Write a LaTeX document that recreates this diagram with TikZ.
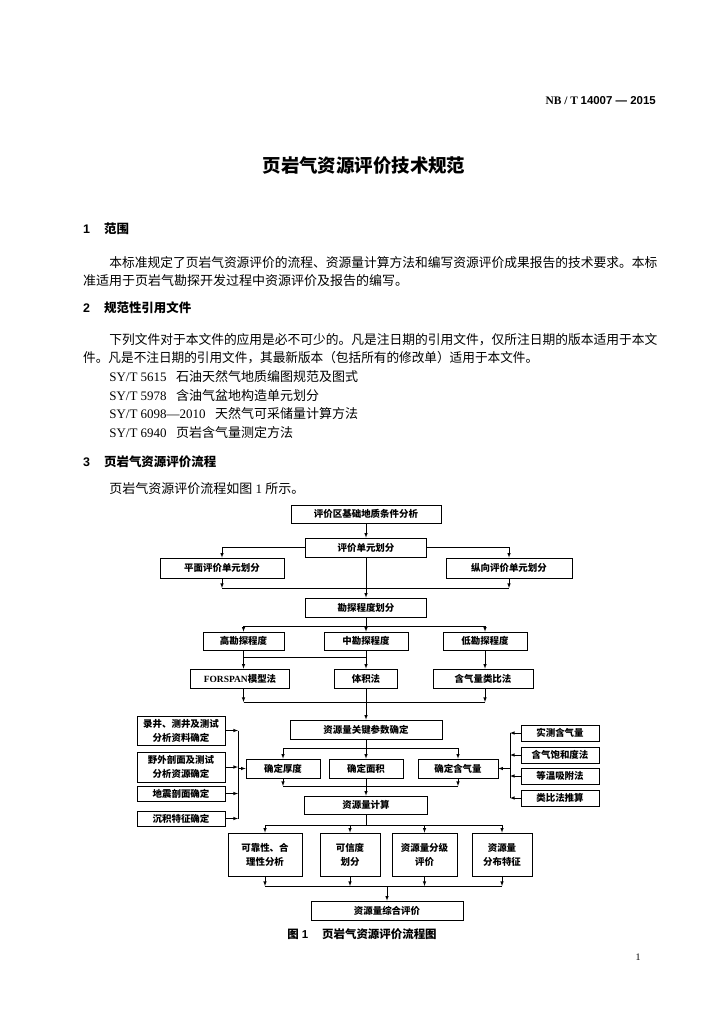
\documentclass[tikz,border=0pt]{standalone}
\usepackage{fontspec}
\usepackage{graphicx}
\setmainfont{Noto Sans CJK SC}
\newfontfamily\lat{Liberation Serif}
\newfontfamily\latsans{Liberation Sans}
\usetikzlibrary{arrows,positioning}
\newcommand\fullline[1]{\resizebox{#1}{\height}}

\begin{document}
\begin{tikzpicture}[x=1bp,y=-1bp,
    box/.style={draw,line width=0.8bp,inner sep=0pt,align=center,
        font=\fontsize{9.5}{12}\selectfont\bfseries},
    twoline/.style={font=\fontsize{9.5}{14}\selectfont\bfseries},
    line/.style={line width=0.6bp},
    arr/.style={line width=0.6bp,-latex},
    txt/.style={anchor=west,inner sep=0pt,font=\fontsize{13.05}{16}\selectfont},
    head/.style={anchor=west,inner sep=0pt,font=\fontsize{12.5}{15}\selectfont\bfseries}]
\useasboundingbox (0,0) rectangle (724,1024);
\fill[white] (0,0) rectangle (724,1024);

% page head and title
\node[anchor=east,inner sep=0pt,font=\fontsize{11.5}{14}\selectfont\bfseries] (hdr) at (656,101)
    {{\lat NB / T} {\latsans 14007 — 2015}};
\node[inner sep=0pt,font=\fontsize{18.5}{22}\selectfont\bfseries] (title) at (364,166) {页岩气资源评价技术规范};

% clause 1
\node[head] (sec1) at (83,229) {{\latsans 1}\hspace{14bp}范围};
\node[txt] (p1a) at (109.1,263) {\fullline{548bp}{本标准规定了页岩气资源评价的流程、资源量计算方法和编写资源评价成果报告的技术要求。本标}};
\node[txt] (p1b) at (83,281) {准适用于页岩气勘探开发过程中资源评价及报告的编写。};

% clause 2
\node[head] (sec2) at (83,308) {{\latsans 2}\hspace{14bp}规范性引用文件};
\node[txt] (p2a) at (109.1,340) {\fullline{548bp}{下列文件对于本文件的应用是必不可少的。凡是注日期的引用文件，仅所注日期的版本适用于本文}};
\node[txt] (p2b) at (83,358) {\fullline{455bp}{件。凡是不注日期的引用文件，其最新版本（包括所有的修改单）适用于本文件。}};
\node[txt] (ref1) at (109.1,377) {\lat SY/T 5615};
\node[txt] (ref1t) at (176,377) {石油天然气地质编图规范及图式};
\node[txt] (ref2) at (109.1,396) {\lat SY/T 5978};
\node[txt] (ref2t) at (176,396) {含油气盆地构造单元划分};
\node[txt] (ref3) at (109.1,414) {\lat SY/T 6098—2010};
\node[txt] (ref3t) at (215,414) {天然气可采储量计算方法};
\node[txt] (ref4) at (109.1,433) {\lat SY/T 6940};
\node[txt] (ref4t) at (176,433) {页岩含气量测定方法};

% clause 3
\node[head] (sec3) at (83,462) {{\latsans 3}\hspace{14bp}页岩气资源评价流程};
\node[txt] (p3) at (109.1,489) {页岩气资源评价流程如图{\lat\ 1 }所示。};

% flow chart
\node[box,minimum width=150bp,minimum height=18bp] (base) at (366,514) {评价区基础地质条件分析};
\node[box,minimum width=121bp,minimum height=19bp] (unit) at (366,547.5) {评价单元划分};
\node[box,minimum width=124bp,minimum height=20bp] (plane) at (222,568) {平面评价单元划分};
\node[box,minimum width=126bp,minimum height=20bp] (vert) at (509,568) {纵向评价单元划分};
\node[box,minimum width=121bp,minimum height=19bp] (degree) at (366,607.5) {勘探程度划分};
\node[box,minimum width=81bp,minimum height=18bp] (high) at (243.5,641) {高勘探程度};
\node[box,minimum width=84bp,minimum height=18bp] (mid) at (366,641) {中勘探程度};
\node[box,minimum width=84bp,minimum height=18bp] (low) at (485,641) {低勘探程度};
\node[box,minimum width=99bp,minimum height=19bp] (forspan) at (240,678.5) {{\lat FORSPAN}模型法};
\node[box,minimum width=63bp,minimum height=19bp] (volume) at (366,678.5) {体积法};
\node[box,minimum width=100bp,minimum height=19bp] (analog) at (483,678.5) {含气量类比法};
\node[box,minimum width=152bp,minimum height=19bp] (param) at (366,729.5) {资源量关键参数确定};
\node[box,minimum width=74bp,minimum height=19bp] (thick) at (283,768.5) {确定厚度};
\node[box,minimum width=74bp,minimum height=19bp] (area) at (366,768.5) {确定面积};
\node[box,minimum width=80bp,minimum height=19bp] (gas) at (458,768.5) {确定含气量};
\node[box,minimum width=123bp,minimum height=18bp] (calc) at (366,805) {资源量计算};

\node[box,twoline,minimum width=88bp,minimum height=29bp] (logdata) at (181,730.5) {录井、测井及测试\\分析资料确定};
\node[box,twoline,minimum width=88bp,minimum height=30bp] (field) at (181,767) {野外剖面及测试\\分析资源确定};
\node[box,minimum width=88bp,minimum height=15bp] (seismic) at (181,793.5) {地震剖面确定};
\node[box,minimum width=88bp,minimum height=15bp] (sedim) at (181,818.5) {沉积特征确定};

\node[box,minimum width=78bp,minimum height=16bp] (meas) at (560,733) {实测含气量};
\node[box,minimum width=78bp,minimum height=16bp] (sat) at (560,755) {含气饱和度法};
\node[box,minimum width=78bp,minimum height=16bp] (iso) at (560,776) {等温吸附法};
\node[box,minimum width=78bp,minimum height=16bp] (analogy) at (560,798) {类比法推算};

\node[box,twoline,minimum width=74bp,minimum height=43bp] (reliab) at (265,854.5) {可靠性、合\\理性分析};
\node[box,twoline,minimum width=60bp,minimum height=43bp] (confid) at (350,854.5) {可信度\\划分};
\node[box,twoline,minimum width=65bp,minimum height=43bp] (grade) at (424.5,854.5) {资源量分级\\评价};
\node[box,twoline,minimum width=60bp,minimum height=43bp] (distr) at (502,854.5) {资源量\\分布特征};
\node[box,minimum width=152bp,minimum height=19bp] (overall) at (387,910.5) {资源量综合评价};

% connectors
\draw[arr] (base) -- (unit);
\draw[arr] (unit.west) -| (plane.north);
\draw[arr] (unit.east) -| (vert.north);
\coordinate (m1) at (366,588);
\draw[line] (plane.south |- m1) -- (vert.south |- m1);
\draw[arr] (plane.south) -- (plane.south |- m1);
\draw[arr] (vert.south) -- (vert.south |- m1);
\draw[arr] (unit) -- (degree);

\coordinate (m2) at (366,626);
\draw[line] (high.north |- m2) -- (low.north |- m2);
\draw[arr] (high.north |- m2) -- (high.north);
\draw[arr] (low.north |- m2) -- (low.north);
\draw[arr] (degree) -- (mid);

\coordinate (m3) at (366,657);
\draw[line] (high.south |- m3) -- (mid.south |- m3);
\draw[arr] (high.south) -- (high.south |- forspan.north);
\draw[arr] (mid) -- (volume);
\draw[arr] (low.south) -- (low.south |- analog.north);

\coordinate (m4) at (366,702);
\draw[line] (high.south |- m4) -- (low.south |- m4);
\draw[arr] (high.south |- forspan.south) -- (high.south |- m4);
\draw[arr] (low.south |- analog.south) -- (low.south |- m4);
\draw[arr] (volume) -- (param);

\coordinate (m5) at (366,748);
\draw[line] (thick.north |- m5) -- (gas.north |- m5);
\draw[arr] (thick.north |- m5) -- (thick.north);
\draw[arr] (gas.north |- m5) -- (gas.north);
\draw[arr] (param) -- (area);

\coordinate (m6) at (366,786);
\draw[line] (thick.south |- m6) -- (gas.south |- m6);
\draw[arr] (thick.south) -- (thick.south |- m6);
\draw[arr] (gas.south) -- (gas.south |- m6);
\draw[arr] (area) -- (calc);

% side inputs
\coordinate (lb) at (238,768.5);
\draw[line] (lb |- logdata.east) -- (lb |- sedim.east);
\foreach \n in {logdata,field,seismic,sedim}
    \draw[arr] (\n.east) -- (lb |- \n.east);
\draw[arr] (lb) -- (thick.west);
\coordinate (rb) at (510,768.5);
\draw[line] (rb |- meas.west) -- (rb |- analogy.west);
\foreach \n in {meas,sat,iso,analogy}
    \draw[arr] (\n.west) -- (rb |- \n.west);
\draw[arr] (rb) -- (gas.east);

\coordinate (m7) at (366,825);
\draw[line] (calc) -- (m7);
\draw[line] (reliab.north |- m7) -- (distr.north |- m7);
\foreach \n in {reliab,confid,grade,distr}
    \draw[arr] (\n.north |- m7) -- (\n.north);
\coordinate (m8) at (387,886);
\draw[line] (reliab.south |- m8) -- (distr.south |- m8);
\foreach \n in {reliab,confid,grade,distr}
    \draw[arr] (\n.south) -- (\n.south |- m8);
\draw[arr] (m8) -- (overall);

% caption and page number
\node[inner sep=0pt,font=\fontsize{11.5}{14}\selectfont\bfseries] (cap) at (362,934)
    {图\hspace{3bp}{\latsans 1}\hspace{14bp}页岩气资源评价流程图};
\node[inner sep=0pt,font=\fontsize{10}{12}\selectfont\lat] (pg) at (638,957) {1};
\end{tikzpicture}
\end{document}
